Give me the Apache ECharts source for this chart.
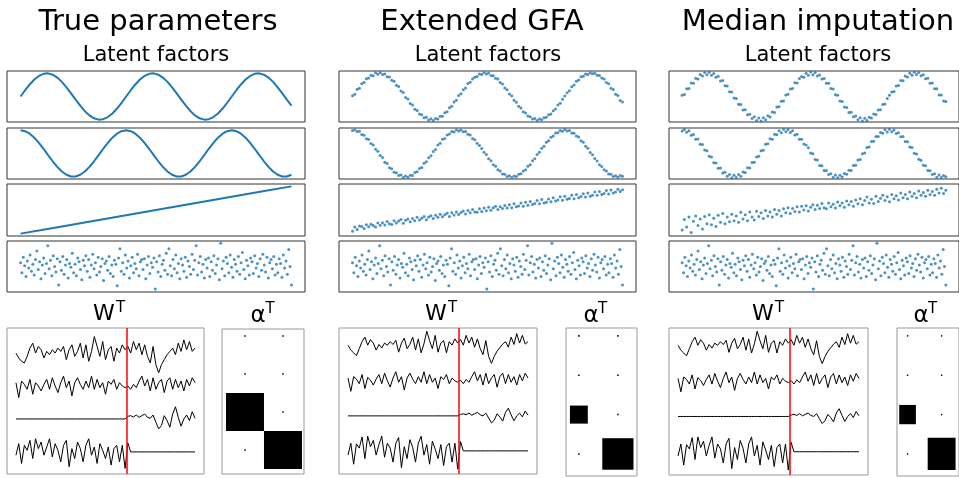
<!DOCTYPE html>
<html>
<head>
<meta charset="utf-8">
<script src="https://cdn.jsdelivr.net/npm/echarts@6/dist/echarts.min.js"></script>
<style>
html, body { margin: 0; padding: 0; background: #fff; }
#main { width: 959px; height: 478px; }
</style>
</head>
<body>
<div id="main"></div>
<script>
// latent factors - true parameters
var trueSin = [0,0.27,0.52,0.731,0.888,0.979,0.998,0.942,0.817,0.631,0.398,0.136,-0.136,-0.398,-0.631,-0.817,-0.942,-0.998,-0.979,-0.888,-0.731,-0.52,-0.27,
    0,0.27,0.52,0.731,0.888,0.979,0.998,0.942,0.817,0.631,0.398,0.136,-0.136,-0.398,-0.631,-0.817,-0.942,-0.998,-0.979,-0.888,-0.731,-0.52,-0.27,
    0,0.27,0.52,0.731,0.888,0.979,0.998,0.942,0.817,0.631,0.398,0.136,-0.136,-0.398];
var trueCos = [1,0.963,0.854,0.682,0.46,0.204,-0.068,-0.335,-0.576,-0.775,-0.917,-0.991,-0.991,-0.917,-0.775,-0.576,-0.335,-0.068,0.204,0.46,0.682,0.854,0.963,
    1,0.963,0.854,0.682,0.46,0.204,-0.068,-0.335,-0.576,-0.775,-0.917,-0.991,-0.991,-0.917,-0.775,-0.576,-0.335,-0.068,0.204,0.46,0.682,0.854,0.963,
    1,0.963,0.854,0.682,0.46,0.204,-0.068,-0.335,-0.576,-0.775,-0.917,-0.991,-0.991,-0.917];
var trueLine = [-1,-0.8,-0.6,-0.4,-0.2,0,0.2,0.4,0.6,0.8,1];
// 4th factor (same in all three columns)
var noiseZ = [0.5,-0.8,1.2,0.1,-1.3,0.7,-0.2,1.5,-0.6,0.3,
    -1.1,0.9,2.0,-0.4,0.6,-1.6,0.2,1.1,-0.9,0.4,
    2.7,-0.3,0.8,-1.2,1.4,0.0,-0.7,1.0,-2.4,0.6,
    -0.5,1.3,-1.0,0.2,0.9,-1.5,0.4,-0.1,1.7,-0.8,
    0.3,-1.2,1.1,0.6,-0.4,-1.7,0.8,0.1,1.4,-0.6,
    0.9,-1.4,0.2,1.6,-0.3,0.5,-1.1,1.2,-0.7,0.0,
    1.0,-1.8,0.4,0.7,-0.5,1.3,-0.9,0.2,-1.3,0.8,
    0.3,-2.5,1.1,2.3,-0.6,0.5,-1.0,1.5,-0.2,0.7,
    -1.5,0.1,1.2,-0.8,0.4,-0.3,1.6,-1.2,0.6,0.9,
    -0.4,1.0,-1.6,0.2,1.3,-0.9,0.5,-0.1,1.1,-2.9,
    0.6,-0.7,1.4,-1.3,0.3,0.8,-0.5,1.7,-1.0,2.3,
    0.1,-1.2,0.9,-0.3,1.5,-0.8,0.4,-1.6,1.0,0.2,
    -0.6,1.2,-1.4,0.7,0.0,-1.0,1.6,-0.4,0.8,2.7,
    -1.1,0.5,1.3,-0.7,0.3,-1.5,0.9,-0.2,1.1,-1.3,
    0.6,-0.5,1.4,-0.9,0.2,1.0,-1.7,3.0,-0.3,0.7,
    -1.2,1.2,0.4,-0.8,1.5,-0.1,-1.4,0.9,0.3,-0.6,
    1.3,-1.0,0.5,1.8,-0.4,-1.6,0.8,0.1,-1.1,1.1,
    0.6,-0.9,1.4,-0.2,0.4,-1.3,1.0,-0.5,1.6,0.2,
    -0.7,1.2,-1.5,0.5,0.9,-0.3,1.3,-1.1,0.3,-0.8,
    1.0,0.4,-1.4,1.5,-0.2,0.7,-1.0,2.2,0.0,-2.4];

// latent factors - extended GFA
var extSin = [0.03,0.10,0.31,0.36,0.55,0.60,0.77,0.80,0.92,0.90,
    1.02,0.96,1.03,0.95,0.97,0.85,0.84,0.70,0.66,0.49,
    0.43,0.24,0.17,-0.04,-0.11,-0.30,-0.37,-0.55,-0.60,-0.76,
    -0.79,-0.92,-0.90,-1.01,-0.96,-1.04,-0.95,-0.97,-0.85,-0.85,
    -0.70,-0.66,-0.48,-0.42,-0.24,-0.16,0.04,0.12,0.29,0.37,
    0.56,0.61,0.75,0.83,0.86,0.97,0.95,1.03,0.97,1.01,
    0.91,0.90,0.79,0.75,0.60,0.54,0.37,0.29,0.11,0.03,
    -0.16,-0.25,-0.42,-0.50,-0.66,-0.71,-0.84,-0.87,-0.97,-0.95,
    -1.03,-0.97,-1.00,-0.92,-0.90,-0.79,-0.75,-0.61,-0.54,-0.37,
    -0.29,-0.12,0.02,0.16,0.25,0.42,0.50,0.66,0.71,0.85,
    0.87,0.97,0.95,1.02,0.98,1.00,0.92,0.91,0.80,0.76,
    0.60,0.55,0.36,0.30,0.10,0.04,-0.17,-0.24];
var extCos = [0.99,1.02,0.95,0.96,0.82,0.79,0.64,0.60,0.43,0.37,
    0.18,0.10,-0.09,-0.17,-0.38,-0.43,-0.61,-0.66,-0.81,-0.83,
    -0.95,-0.93,-1.03,-0.97,-1.02,-0.94,-0.95,-0.82,-0.79,-0.65,
    -0.60,-0.42,-0.36,-0.18,-0.10,0.09,0.17,0.37,0.44,0.61,
    0.65,0.80,0.84,0.95,0.93,1.02,0.97,1.01,0.94,0.95,
    0.83,0.80,0.65,0.59,0.44,0.34,0.22,0.05,-0.04,-0.23,
    -0.31,-0.49,-0.55,-0.70,-0.76,-0.88,-0.90,-0.99,-0.96,-1.03,
    -0.97,-0.99,-0.89,-0.87,-0.75,-0.70,-0.55,-0.48,-0.31,-0.23,
    -0.04,0.05,0.23,0.31,0.49,0.55,0.70,0.76,0.88,0.90,
    0.99,0.96,1.03,0.97,0.99,0.88,0.87,0.75,0.71,0.55,
    0.48,0.31,0.23,0.04,-0.05,-0.22,-0.32,-0.48,-0.56,-0.70,
    -0.75,-0.88,-0.89,-0.99,-0.96,-1.02,-0.95,-0.98];
var extTrend = [-0.90,-0.72,-0.82,-0.68,-0.70,-0.78,-0.62,-0.71,-0.60,-0.66,
    -0.72,-0.55,-0.64,-0.54,-0.63,-0.49,-0.58,-0.61,-0.45,-0.55,
    -0.47,-0.40,-0.56,-0.43,-0.38,-0.50,-0.36,-0.46,-0.31,-0.42,
    -0.35,-0.27,-0.41,-0.30,-0.24,-0.36,-0.22,-0.31,-0.18,-0.29,
    -0.20,-0.14,-0.27,-0.12,-0.21,-0.08,-0.19,-0.11,-0.04,-0.17,
    -0.02,-0.12,0.02,-0.08,-0.10,0.05,-0.06,0.08,-0.03,0.12,
    -0.01,0.09,0.16,0.02,0.14,0.06,0.19,0.08,0.22,0.10,
    0.26,0.14,0.17,0.30,0.16,0.33,0.20,0.36,0.23,0.28,
    0.40,0.26,0.44,0.30,0.33,0.47,0.35,0.52,0.38,0.42,
    0.56,0.41,0.58,0.45,0.49,0.62,0.48,0.66,0.52,0.57,
    0.69,0.55,0.72,0.58,0.62,0.76,0.62,0.78,0.66,0.70,
    0.82,0.68,0.85,0.72,0.76,0.88,0.78,0.86];

// latent factors - median imputation
var medSin = [0.05,0.09,0.33,0.35,0.58,0.57,0.79,0.76,0.95,0.88,
    1.04,0.94,1.05,0.92,0.99,0.83,0.87,0.67,0.69,0.46,
    0.45,0.21,0.19,-0.07,-0.09,-0.33,-0.35,-0.58,-0.57,-0.79,
    -0.77,-0.95,-0.87,-1.04,-0.93,-1.06,-0.92,-1.00,-0.83,-0.88,
    -0.67,-0.69,-0.45,-0.44,-0.21,-0.19,0.07,0.10,0.32,0.34,
    0.59,0.58,0.78,0.86,0.83,1.00,0.92,1.06,0.94,1.03,
    0.88,0.93,0.76,0.78,0.57,0.57,0.34,0.32,0.08,0.05,
    -0.19,-0.22,-0.45,-0.47,-0.69,-0.68,-0.87,-0.84,-1.00,-0.92,
    -1.06,-0.94,-1.03,-0.89,-0.93,-0.76,-0.78,-0.58,-0.57,-0.34,
    -0.32,-0.09,0.05,0.19,0.22,0.45,0.47,0.69,0.68,0.88,
    0.84,1.00,0.92,1.05,0.95,1.03,0.89,0.94,0.77,0.79,
    0.57,0.58,0.33,0.33,0.07,0.06,-0.19,-0.22];
var medCos = [0.97,1.04,0.92,0.98,0.79,0.82,0.61,0.63,0.40,0.39,
    0.15,0.12,-0.12,-0.15,-0.40,-0.41,-0.64,-0.63,-0.84,-0.81,
    -0.98,-0.91,-1.05,-0.94,-1.04,-0.91,-0.98,-0.80,-0.82,-0.62,
    -0.63,-0.39,-0.38,-0.15,-0.12,0.12,0.14,0.40,0.42,0.64,
    0.62,0.83,0.81,0.98,0.90,1.05,0.94,1.04,0.91,0.98,
    0.80,0.83,0.62,0.62,0.41,0.37,0.25,0.02,-0.01,-0.26,
    -0.28,-0.52,-0.53,-0.73,-0.73,-0.91,-0.87,-1.02,-0.93,-1.05,
    -0.94,-1.01,-0.86,-0.90,-0.72,-0.73,-0.52,-0.51,-0.28,-0.26,
    -0.01,0.02,0.26,0.28,0.52,0.53,0.73,0.73,0.91,0.87,
    1.02,0.93,1.05,0.94,1.01,0.86,0.90,0.72,0.73,0.52,
    0.51,0.28,0.26,0.01,-0.02,-0.25,-0.29,-0.51,-0.53,-0.73,
    -0.74,-0.91,-0.87,-1.02,-0.93,-1.04,-0.95,-1.00];
var medTrend = [-0.85,-0.40,-0.72,-0.30,-0.95,-0.48,-0.25,-0.66,-0.38,-0.80,
    -0.28,-0.58,-0.20,-0.62,-0.35,-0.70,-0.22,-0.52,-0.15,-0.58,
    -0.30,-0.50,-0.18,-0.45,-0.25,-0.52,-0.10,-0.38,-0.20,-0.45,
    -0.08,-0.30,-0.42,-0.05,-0.28,-0.12,-0.36,-0.02,-0.25,-0.08,
    -0.30,0.02,-0.18,-0.02,-0.25,0.05,-0.12,0.10,-0.15,0.06,
    -0.06,0.14,-0.08,0.16,0.00,0.18,-0.04,0.12,0.22,0.02,
    0.20,0.06,0.28,0.10,0.05,0.30,0.14,0.24,0.08,0.34,
    0.18,0.30,0.12,0.38,0.22,0.36,0.16,0.42,0.26,0.48,
    0.22,0.40,0.55,0.30,0.46,0.28,0.58,0.36,0.50,0.62,
    0.40,0.56,0.35,0.66,0.48,0.60,0.42,0.72,0.52,0.66,
    0.48,0.76,0.58,0.70,0.52,0.80,0.62,0.74,0.58,0.84,
    0.66,0.78,0.62,0.88,0.72,0.92,0.70,0.84];

// W^T rows (40 features of view 1, 25 of view 2)
var wTrue1 = [0.0,-0.15,-0.25,-0.3,-0.1,0.15,0.3,0.0,0.2,0.1,-0.15,0.05,-0.05,0.1,0.0,0.15,0.05,0.2,-0.2,0.1,
    0.25,-0.1,0.05,0.3,-0.15,0.25,-0.25,0.05,0.5,0.2,-0.1,0.35,-0.2,0.1,0.2,-0.25,0.15,0.0,0.25,0.1,
    0.2,0.0,0.35,0.1,0.3,-0.05,0.25,-0.1,-0.3,0.2,-0.35,-0.6,-0.35,-0.2,-0.05,0.05,0.15,-0.05,0.3,0.05,
    0.4,0.1,0.35,0.05,0.15];
var wTrue2 = [0.1,-0.35,0.15,0.05,-0.1,0.2,-0.25,0.1,0.0,-0.15,0.05,0.2,-0.1,0.25,0.0,-0.2,0.1,0.3,-0.05,0.15,
    -0.3,0.1,0.25,0.05,-0.1,0.15,-0.05,0.3,-0.1,0.2,-0.05,0.1,-0.25,0.15,0.05,0.2,-0.1,0.1,0.0,-0.05,
    0.0,-0.1,0.05,-0.05,0.15,0.3,0.0,0.2,-0.15,0.25,-0.1,0.1,0.2,-0.2,0.15,0.25,-0.1,0.2,-0.05,0.15,
    -0.15,0.2,0.0,0.25,0.1];
var wTrue3 = [0,0,0,0,0,0,0,0,0,0,0,0,0,0,0,0,0,0,0,0,0,0,0,0,0,0,0,0,0,0,0,0,0,0,0,0,0,0,0,0,
    0.08,0.1,0.06,0.12,0.05,0.1,0.15,0.05,0.02,0.12,-0.1,-0.3,-0.2,0.1,-0.05,-0.25,0.15,0.37,0.05,-0.22,
    0.0,0.12,-0.05,0.22,0.02];
var wTrue4 = [-0.1,0.25,-0.35,0.2,0.05,0.35,-0.2,0.4,0.1,0.3,-0.1,0.15,0.4,-0.15,0.25,0.05,-0.3,0.2,0.35,-0.45,
    0.1,-0.2,0.3,0.1,-0.3,0.2,0.4,-0.1,0.15,-0.35,0.25,0.05,-0.2,0.15,-0.4,0.1,0.2,-0.3,0.2,-0.5,
    0.27,0,0,0,0,0,0,0,0,0,0,0,0,0,0,0,0,0,0,0,0,0,0,0,0];
var wEst1 = [0.02,-0.12,-0.2,-0.28,-0.08,0.12,0.25,0.02,0.18,0.08,-0.12,0.04,-0.06,0.08,0.02,0.12,0.04,0.16,-0.18,0.08,
    0.22,-0.08,0.04,0.25,-0.12,0.2,-0.2,0.06,0.42,0.15,-0.08,0.3,-0.18,0.08,0.15,-0.2,0.12,0.02,0.2,0.08,
    0.18,0.02,0.3,0.08,0.25,-0.04,0.2,-0.08,-0.25,0.15,-0.3,-0.5,-0.3,-0.15,-0.05,0.05,0.12,-0.04,0.25,0.04,
    0.35,0.08,0.3,0.05,0.12];
var wEst2 = [0.08,-0.3,0.12,0.05,-0.08,0.18,-0.22,0.1,0.02,-0.12,0.05,0.18,-0.08,0.22,0.0,-0.18,0.08,0.26,-0.04,0.12,
    -0.26,0.08,0.22,0.05,-0.08,0.12,-0.04,0.26,-0.08,0.18,-0.04,0.08,-0.22,0.12,0.04,0.18,-0.08,0.08,0.0,-0.04,
    0.02,-0.08,0.04,-0.04,0.12,0.26,0.0,0.18,-0.12,0.22,-0.08,0.08,0.18,-0.18,0.12,0.22,-0.08,0.18,-0.04,0.12,
    -0.12,0.18,0.0,0.22,0.08];
var wEst3 = [0,0,0,0,0,0,0,0,0,0,0,0,0,0,0,0,0,0,0,0,0,0,0,0,0,0,0,0,0,0,0,0,0,0,0,0,0,0,0,0,
    0.04,0.06,0.03,0.08,0.02,0.06,0.1,0.03,0.0,0.08,-0.06,-0.2,-0.12,0.06,-0.03,-0.15,0.1,0.22,0.03,-0.14,
    0.0,0.08,-0.03,0.14,0.02];
var wEst4 = [-0.12,0.22,-0.38,0.2,0.08,0.4,-0.22,0.42,0.12,0.3,-0.12,0.18,0.42,-0.18,0.22,0.08,-0.32,0.22,0.38,-0.48,
    0.12,-0.22,0.32,0.1,-0.32,0.22,0.42,-0.12,0.18,-0.38,0.28,0.05,-0.22,0.18,-0.42,0.12,0.22,-0.32,0.22,-0.52,
    0.27,0,0,0,0,0,0,0,0,0,0,0,0,0,0,0,0,0,0,0,0,0,0,0,0];
var viewSplit = 39.5;

// alpha^T (rows: factors, cols: views)
var alphaTrue = [[0.0015,0.0015],[0.0015,0.0015],[1,0.0015],[0.0015,1]];
var alphaExt = [[0.0015,0.0015],[0.0015,0.0015],[0.21,0.0015],[0.0015,0.64]];
var alphaMed = [[0.0015,0.0015],[0.0015,0.0015],[0.24,0.0015],[0.0015,0.67]];

var FONT = '"DejaVu Sans", sans-serif';
var BLUE = '#1f77b4';
var latentTops = [71, 128, 184, 241];
var latentHeights = [51, 51, 52, 51];

var cols = [
    { left: 7, width: 298, truth: true, z: [trueSin, trueCos, trueLine, noiseZ],
      w: [wTrue1, wTrue2, wTrue3, wTrue4], wBox: [7, 328, 197, 146], wY: [-3.67, 0.76],
      alpha: alphaTrue, aBox: [222, 329, 82, 145], aX: [-0.605, 1.553], aY: [-0.184, 3.63] },
    { left: 339, width: 297, truth: false, z: [extSin, extCos, extTrend, noiseZ],
      w: [wEst1, wEst2, wEst3, wEst4], wBox: [339, 328, 198, 146], wY: [-3.66, 0.51],
      alpha: alphaExt, aBox: [566, 328, 71, 148], aX: [-0.33, 1.49], aY: [-0.2, 3.56] },
    { left: 669, width: 297, truth: false, z: [medSin, medCos, medTrend, noiseZ],
      w: [wEst1, wEst2, wEst3, wEst4], wBox: [669, 328, 199, 147], wY: [-3.66, 0.51],
      alpha: alphaMed, aBox: [897, 328, 71, 148], aX: [-0.31, 1.51], aY: [-0.2, 3.56] }
];

var grids = [], xAxes = [], yAxes = [], series = [];

function addGrid(box, xr, yr, border, inverse) {
    var i = grids.length;
    grids.push({ left: box[0], top: box[1], width: box[2], height: box[3], show: true,
        borderColor: border, borderWidth: 1, backgroundColor: '#fff' });
    xAxes.push({ type: 'value', gridIndex: i, min: xr[0], max: xr[1], show: false });
    yAxes.push({ type: 'value', gridIndex: i, min: yr[0], max: yr[1], show: false, inverse: !!inverse });
    return i;
}

function toXY(arr) {
    return arr.map(function (v, i) { return [i / (arr.length - 1), v]; });
}

cols.forEach(function (c) {
    // latent factor panels
    for (var k = 0; k < 4; k++) {
        var yr = k === 3 ? [-3.3, 3.3] : [-1.1, 1.1];
        var g = addGrid([c.left, latentTops[k], c.width, latentHeights[k]], [-0.05, 1.05], yr, '#333');
        if (c.truth && k < 3) {
            series.push({ type: 'line', xAxisIndex: g, yAxisIndex: g, data: toXY(c.z[k]), showSymbol: false,
                lineStyle: { color: BLUE, width: 2 }, silent: true });
        } else {
            series.push({ type: 'scatter', xAxisIndex: g, yAxisIndex: g, data: toXY(c.z[k]), symbolSize: 3,
                itemStyle: { color: BLUE }, silent: true });
        }
    }
    // W^T panel
    var gw = addGrid(c.wBox, [-3.2, 67.2], c.wY, '#999');
    c.w.forEach(function (row, r) {
        var s = { type: 'line', xAxisIndex: gw, yAxisIndex: gw, showSymbol: false, silent: true,
            data: row.map(function (v, i) { return [i, v - r]; }),
            lineStyle: { color: '#000', width: 1 } };
        if (r === 0) {
            s.markLine = { silent: true, symbol: 'none', label: { show: false },
                lineStyle: { color: '#ff0000', width: 1.5, type: 'solid' },
                data: [{ xAxis: viewSplit }] };
        }
        series.push(s);
    });
    // alpha^T panel
    var ga = addGrid(c.aBox, c.aX, c.aY, '#999', true);
    var cells = [];
    c.alpha.forEach(function (row, r) {
        row.forEach(function (v, j) { cells.push([j, r, v]); });
    });
    series.push({ type: 'custom', xAxisIndex: ga, yAxisIndex: ga, data: cells, silent: true,
        renderItem: function (params, api) {
            var p = api.coord([api.value(0), api.value(1)]);
            var s = api.size([1, 1]);
            var f = Math.sqrt(api.value(2));
            var w = Math.abs(s[0]) * f, h = Math.abs(s[1]) * f;
            return { type: 'rect', shape: { x: p[0] - w / 2, y: p[1] - h / 2, width: w, height: h },
                style: { fill: '#000' } };
        } });
});

function txt(t, x, y, size, align) {
    return { type: 'text', x: x, y: y, silent: true,
        style: { text: t, fill: '#000', font: size + 'px ' + FONT, fontSize: size, fontFamily: FONT,
            align: align || 'center', verticalAlign: 'middle',
            textAlign: align || 'center', textVerticalAlign: 'middle' } };
}

var graphics = [
    txt('True parameters', 158, 22, 29), txt('Extended GFA', 482, 22, 29), txt('Median imputation', 818, 22, 29),
    txt('Latent factors', 156, 55.5, 21), txt('Latent factors', 488, 55.5, 21), txt('Latent factors', 818, 55.5, 21),
    txt('W', 104, 314, 22), txt('T', 116, 308, 15, 'left'),
    txt('W', 436, 314, 22), txt('T', 448, 308, 15, 'left'),
    txt('W', 763, 314, 22), txt('T', 775, 308, 15, 'left'),
    txt('\u03b1', 258, 316, 23), txt('T', 265.5, 309, 15, 'left'),
    txt('\u03b1', 591, 316, 23), txt('T', 598, 309, 15, 'left'),
    txt('\u03b1', 921, 316, 23), txt('T', 928, 309, 15, 'left')
];

var myChart = echarts.init(document.getElementById('main'));
myChart.setOption({
    animation: false,
    backgroundColor: '#fff',
    grid: grids,
    xAxis: xAxes,
    yAxis: yAxes,
    series: series,
    graphic: graphics
});
</script>
</body>
</html>
